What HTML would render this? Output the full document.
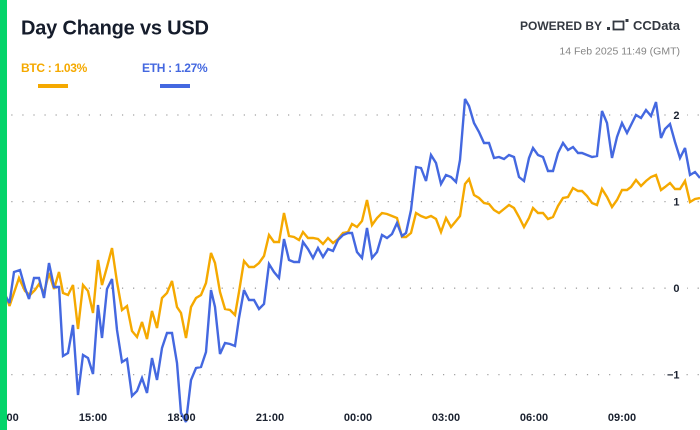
<!DOCTYPE html>
<html>
<head>
<meta charset="utf-8">
<style>
html,body{margin:0;padding:0;background:#fff;}
body{width:700px;height:430px;overflow:hidden;position:relative;font-family:"Liberation Sans",Arial,sans-serif;}
svg{position:absolute;left:0;top:0;}
</style>
</head>
<body>
<svg width="700" height="430" viewBox="0 0 700 430" xmlns="http://www.w3.org/2000/svg">
  <rect x="0" y="0" width="700" height="430" fill="#ffffff"/>

  <!-- gridlines -->
  <g stroke="#a0a0a0" stroke-width="1.3" stroke-dasharray="1.2 9.87">
    <line x1="0.2" y1="115" x2="700" y2="115"/>
    <line x1="0.2" y1="201.6" x2="700" y2="201.6"/>
    <line x1="0.2" y1="288.2" x2="700" y2="288.2"/>
    <line x1="0.2" y1="374.6" x2="700" y2="374.6"/>
  </g>

  <!-- y labels with white backing -->
  <g fill="#ffffff">
    <rect x="667" y="108" width="20" height="14"/>
    <rect x="667" y="194.6" width="20" height="14"/>
    <rect x="667" y="281.2" width="20" height="14"/>
    <rect x="665" y="367.6" width="18" height="14"/>
  </g>
  <g font-family="Liberation Sans, Arial, sans-serif" font-weight="bold" font-size="11" fill="#1b2230" text-anchor="end">
    <text x="679.5" y="119">2</text>
    <text x="679.5" y="205.6">1</text>
    <text x="679.5" y="292.2">0</text>
    <text x="679.5" y="378.6">−1</text>
  </g>

  <!-- BTC series -->
  <polyline fill="none" stroke="#F5A900" stroke-width="2.4" stroke-linejoin="miter" stroke-miterlimit="3"
    points="2,285 9.5,306 19,278 25,291 30,295 35,290 39,284 44,293 49,273 54,289 59,272 63,293 68,295 73,285 78,329 83,285 88,291 93,313 98,260 102,285 107,267 112,248 117,282 122,310 127,306 132,331 137,337 142,322 147,339 152,311 157,328 162,298 167,293 172,281 177,307 181,313 186,338 191,307 196,298 201,295 206,283 211,253 215,263 220,292 225,309 230,310 235,315 239,292 244,261 249,267 254,267 259,263 264,256 269,235 274,242 279,242 284,213 289,236 294,237 299,240 303,232 308,238 313,238 318,239 323,244 328,238 333,243 338,239 343,233 348,232 352,224 357,227 362,221 367,200 372,225 377,218 382,213 387,214 392,216 397,218 402,237 406,237 411,233 416,213 421,216 426,218 431,216 436,219 441,232 446,218 451,227 456,221 460,216 465,184 469,179 474,195 479,198 484,203 489,204 494,210 499,213 504,209 509,205 514,208 519,217 524,227 529,218 533,208 538,213 543,213 548,219 553,217 558,206 563,198 568,197 573,188 578,191 582,191 587,196 592,203 597,205 602,189 607,197 612,207 617,200 622,190 627,190 631,187 636,180 641,186 646,181 651,177 656,175 661,190 665,187 670,183 675,189 680,189 685,181 690,202 695,199 700,198"/>

  <!-- ETH series -->
  <polyline fill="none" stroke="#4468E0" stroke-width="2.4" stroke-linejoin="miter" stroke-miterlimit="3"
    points="2,290 9.5,303 14,272 20,270 25,288 29,299 34,278 39,278 44,298 49,263 54,287 59,287 63,356 68,353 73,325 78,395 83,355 88,358 93,374 98,305 102,338 107,289 112,279 117,330 122,362 127,359 132,396 137,391 142,378 147,393 152,358 157,380 162,348 167,333 172,333 177,363 181,413 186,422 191,380 196,368 201,367 206,352 211,290 215,307 220,354 225,343 230,344 235,346 239,318 244,290 249,300 254,300 259,309 264,304 269,264 274,272 279,278 284,239 289,260 294,262 299,262 303,242 308,249 313,258 318,248 323,257 328,249 333,251 338,240 343,235 348,233 352,233 357,252 362,258 367,228 372,258 377,252 382,235 387,238 392,234 397,223 402,236 406,233 411,210 416,167 421,168 426,181 431,155 436,163 441,184 446,175 451,177 456,182 460,160 465,99 469,106 474,123 479,132 484,143 489,143 494,158 499,157 504,159 509,155 514,157 519,177 524,181 529,158 533,148 538,155 543,157 548,171 553,171 558,153 563,143 568,150 573,147 578,153 582,153 587,155 592,157 597,156 602,111 607,123 612,158 617,137 622,123 627,133 631,125 636,115 641,118 646,110 651,116 656,102 661,138 665,129 670,124 675,142 680,158 685,148 690,175 695,172 700,178"/>

  <!-- x labels -->
  <g font-family="Liberation Sans, Arial, sans-serif" font-weight="bold" font-size="11" fill="#1b2230" text-anchor="middle">
    <text x="4.7" y="421">12:00</text>
    <text x="93" y="421">15:00</text>
    <text x="181.5" y="421">18:00</text>
    <text x="270" y="421">21:00</text>
    <text x="358" y="421">00:00</text>
    <text x="446" y="421">03:00</text>
    <text x="534" y="421">06:00</text>
    <text x="622" y="421">09:00</text>
  </g>

  <!-- left green bar -->
  <rect x="0" y="0" width="7" height="430" fill="#04D46A"/>

  <!-- title -->
  <text x="21" y="34.5" font-family="Liberation Sans, Arial, sans-serif" font-weight="bold" font-size="20" letter-spacing="-0.2" fill="#151c2b">Day Change vs USD</text>

  <!-- legend -->
  <text x="21" y="72" font-family="Liberation Sans, Arial, sans-serif" font-weight="bold" font-size="12" letter-spacing="-0.3" fill="#F5A900">BTC : 1.03%</text>
  <rect x="38" y="84" width="30" height="4" fill="#F5A900"/>
  <text x="142" y="72" font-family="Liberation Sans, Arial, sans-serif" font-weight="bold" font-size="12" letter-spacing="-0.3" fill="#4468E0">ETH : 1.27%</text>
  <rect x="160" y="84" width="30" height="4" fill="#4468E0"/>

  <!-- powered by -->
  <text x="602" y="30" text-anchor="end" font-family="Liberation Sans, Arial, sans-serif" font-weight="bold" font-size="12" fill="#343941">POWERED BY</text>
  <g fill="none" stroke="#343941" stroke-width="1.8">
    <rect x="613.5" y="21.5" width="10" height="8"/>
  </g>
  <rect x="607" y="27" width="3" height="3" fill="#343941"/>
  <rect x="625.5" y="19" width="3" height="3" fill="#343941"/>
  <text x="680" y="30" text-anchor="end" font-family="Liberation Sans, Arial, sans-serif" font-weight="bold" font-size="13" fill="#343941">CCData</text>

  <text x="680" y="54.5" text-anchor="end" font-family="Liberation Sans, Arial, sans-serif" font-size="10.5" fill="#858585">14 Feb 2025 11:49 (GMT)</text>
</svg>
</body>
</html>
